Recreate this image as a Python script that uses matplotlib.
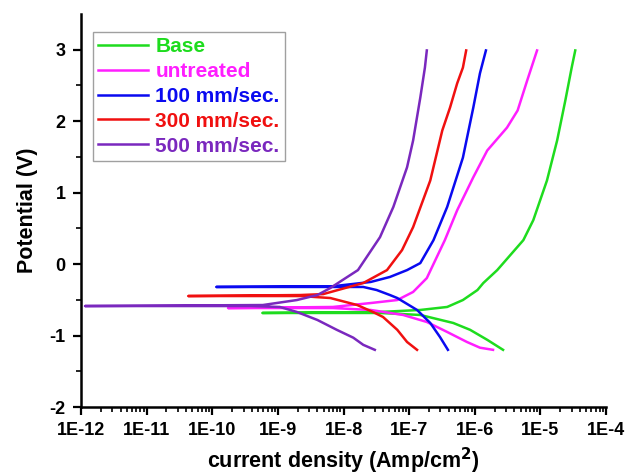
import math
import matplotlib
matplotlib.use('Agg')
import matplotlib.pyplot as plt
from matplotlib.ticker import LogLocator, FixedLocator, FuncFormatter, NullFormatter

plt.rcParams['font.family'] = ['Liberation Sans', 'DejaVu Sans']
plt.rcParams['font.weight'] = 'bold'
plt.rcParams['axes.unicode_minus'] = False

# Tafel curves: cathodic branch (from -1.2 V up to Ecorr), the dip at Ecorr,
# then the anodic branch up to 3 V. Current in A/cm^2, potential in V.
base_i = [2.7e-6, 1.55e-6, 8.5e-7, 4.7e-7, 1.48e-7, 3.6e-8, 5.8e-10,
          3.6e-8, 1.48e-7, 3.8e-7, 6.6e-7, 1.1e-6, 1.35e-6, 2.2e-6,
          5.5e-6, 7.8e-6, 1.26e-5, 1.8e-5, 2.4e-5, 3.0e-5, 3.4e-5]
base_v = [-1.20, -1.06, -0.92, -0.824, -0.712, -0.684, -0.684,
          -0.67, -0.642, -0.60, -0.503, -0.363, -0.265, -0.084,
          0.335, 0.615, 1.17, 1.73, 2.29, 2.75, 2.99]

untreated_i = [1.9e-6, 1.2e-6, 7.6e-7, 3.8e-7, 1.86e-7, 8.1e-8, 2.6e-8, 6.9e-9, 1.74e-10,
               6.9e-9, 2.6e-8, 6.6e-8, 1.15e-7, 1.86e-7, 3.5e-7, 5.4e-7,
               9.5e-7, 1.55e-6, 3.1e-6, 4.5e-6, 6.3e-6, 8.9e-6]
untreated_v = [-1.20, -1.17, -1.09, -0.95, -0.81, -0.712, -0.642, -0.615, -0.615,
               -0.60, -0.545, -0.503, -0.39, -0.196, 0.335, 0.754,
               1.215, 1.59, 1.91, 2.15, 2.57, 2.99]

s100_i = [3.9e-7, 2.95e-7, 2.1e-7, 1.32e-7, 6.6e-8, 5.1e-8, 3.2e-8, 2.0e-8, 6.9e-9, 1.15e-10,
          6.9e-9, 2.6e-8, 5.1e-8, 9.3e-8, 1.48e-7, 2.35e-7, 3.8e-7,
          6.6e-7, 9.5e-7, 1.2e-6, 1.48e-6]
s100_v = [-1.20, -1.02, -0.824, -0.642, -0.475, -0.433, -0.363, -0.32, -0.32, -0.32,
          -0.31, -0.25, -0.18, -0.084, 0.014, 0.335, 0.80,
          1.49, 2.19, 2.67, 2.99]

s300_i = [1.32e-7, 9.3e-8, 6.6e-8, 4.0e-8, 2.8e-8, 1.62e-8, 6.3e-9, 2.2e-9, 4.3e-11,
          2.2e-9, 4.9e-9, 2.0e-8, 4.6e-8, 7.8e-8, 1.15e-7,
          2.1e-7, 3.2e-7, 4.2e-7, 5.4e-7, 6.6e-7, 7.4e-7]
s300_v = [-1.20, -1.09, -0.92, -0.74, -0.67, -0.573, -0.475, -0.447, -0.447,
          -0.433, -0.42, -0.265, -0.084, 0.196, 0.517,
          1.17, 1.87, 2.19, 2.53, 2.75, 2.99]

s500_i = [3.0e-8, 2.0e-8, 1.41e-8, 7.9e-9, 4.0e-9, 1.95e-9, 1.07e-9, 3.8e-10, 1.15e-12,
          5.9e-10, 1.95e-9, 4.0e-9, 6.3e-9, 9.8e-9, 1.66e-8, 3.6e-8,
          5.75e-8, 9.3e-8, 1.15e-7, 1.48e-7, 1.74e-7, 1.86e-7]
s500_v = [-1.20, -1.13, -1.03, -0.92, -0.782, -0.67, -0.60, -0.587, -0.587,
          -0.573, -0.503, -0.433, -0.335, -0.22, -0.084, 0.377,
          0.80, 1.355, 1.73, 2.33, 2.75, 2.99]

labels = ['Base', 'untreated', '100 mm/sec.', '300 mm/sec.', '500 mm/sec.']
colors = ['#1EDC1E', '#FF1EFF', '#0A0AF0', '#F01010', '#7A28BE']
series = [(base_i, base_v), (untreated_i, untreated_v), (s100_i, s100_v),
          (s300_i, s300_v), (s500_i, s500_v)]

x_ticks = [10.0 ** e for e in range(-12, -3)]
y_ticks = [-2, -1, 0, 1, 2, 3]

fig = plt.figure(figsize=(6.25, 4.75), dpi=100)
ax = fig.add_axes([81 / 625, 68 / 475, 525 / 625, 393 / 475])

for (cur, pot), lab, col in zip(series, labels, colors):
    ax.plot(cur, pot, color=col, lw=1.8, label=lab, solid_joinstyle='round')

ax.set_xscale('log')
ax.set_xlim(1e-12, 1e-4)
ax.set_ylim(-2, 3.5)

ax.xaxis.set_major_locator(FixedLocator(x_ticks))
ax.xaxis.set_minor_locator(LogLocator(base=10, subs=range(2, 10), numticks=100))
ax.xaxis.set_minor_formatter(NullFormatter())
ax.xaxis.set_major_formatter(FuncFormatter(lambda v, p: '1E%d' % round(math.log10(v))))
ax.yaxis.set_major_locator(FixedLocator(y_ticks))
ax.yaxis.set_minor_locator(FixedLocator([-1.5, -0.5, 0.5, 1.5, 2.5]))

for s in ['top', 'right']:
    ax.spines[s].set_visible(False)
for s in ['left', 'bottom']:
    ax.spines[s].set_linewidth(1.8)

ax.tick_params(which='major', direction='out', length=6, width=1.6, labelsize=13, pad=5)
ax.tick_params(which='minor', direction='out', length=3.5, width=1.2)
for t in ax.get_xticklabels() + ax.get_yticklabels():
    t.set_fontweight('bold')

ax.set_xlabel('current density (Amp/cm$^\\mathbf{2}$)', fontsize=15.5, fontweight='bold', labelpad=5)
ax.set_ylabel('Potential (V)', fontsize=15.5, fontweight='bold', labelpad=8)

leg = ax.legend(loc='upper left', bbox_to_anchor=(93 / 625, 1 - 32 / 475),
                bbox_transform=fig.transFigure, borderaxespad=0,
                fontsize=15, frameon=True, fancybox=False, handlelength=2.4,
                handletextpad=0.35, labelspacing=0.28, borderpad=0.25)
leg.get_frame().set_edgecolor('#888888')
leg.get_frame().set_linewidth(1.0)
for txt, col in zip(leg.get_texts(), colors):
    txt.set_color(col)
    txt.set_fontweight('bold')

fig.savefig('out.png', dpi=100)
